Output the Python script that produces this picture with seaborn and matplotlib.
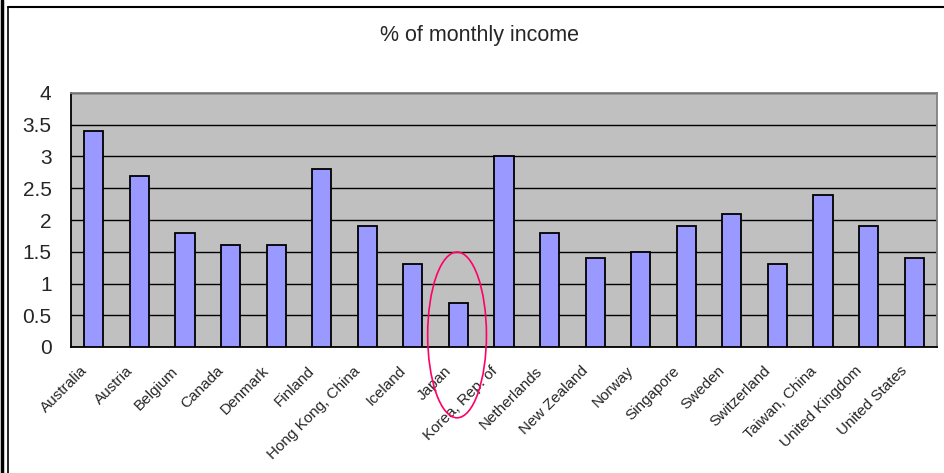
import matplotlib
matplotlib.use("Agg")
import matplotlib.pyplot as plt
from matplotlib.patches import Ellipse
from matplotlib.lines import Line2D
from matplotlib.transforms import ScaledTranslation
import numpy as np
import pandas as pd
import seaborn as sns

# data
countries = ["Australia", "Austria", "Belgium", "Canada", "Denmark", "Finland",
             "Hong Kong, China", "Iceland", "Japan", "Korea, Rep. of",
             "Netherlands", "New Zealand", "Norway", "Singapore", "Sweden",
             "Switzerland", "Taiwan, China", "United Kingdom", "United States"]
pct_income = [3.4, 2.7, 1.8, 1.6, 1.6, 2.8, 1.9, 1.3, 0.7, 3.0,
              1.8, 1.4, 1.5, 1.9, 2.1, 1.3, 2.4, 1.9, 1.4]
highlight = "Japan"

df = pd.DataFrame({"country": countries, "pct": pct_income})

sns.set_style("white")
plt.rcParams["font.family"] = ["Liberation Sans", "DejaVu Sans"]

fig = plt.figure(figsize=(9.44, 4.73), dpi=100)
ax = fig.add_axes([71 / 944, 1 - 347 / 473, 866 / 944, 254 / 473])
ax.set_facecolor("#C0C0C0")

sns.barplot(data=df, x="country", y="pct", color="#9999FF", saturation=1,
            width=0.42, edgecolor="black", linewidth=1.3, ax=ax, zorder=3)

ax.set_xlim(-0.5, len(countries) - 0.5)
ax.set_ylim(0, 4)
ax.set_yticks(np.arange(0, 4.01, 0.5))
ax.set_yticklabels(["0", "0.5", "1", "1.5", "2", "2.5", "3", "3.5", "4"])
ax.yaxis.grid(True, color="black", linewidth=1.0, zorder=1)
ax.set_axisbelow(True)
ax.set_xlabel("")
ax.set_ylabel("")

ax.tick_params(axis="y", labelsize=15, length=4, direction="out",
               color="black", pad=10)
ax.set_xticks(np.arange(len(countries)))
ax.set_xticklabels(countries, rotation=45, ha="right",
                   rotation_mode="anchor", fontsize=11)
ax.tick_params(axis="x", which="major", length=0, pad=12)
shift = ScaledTranslation(-0.14, 0, fig.dpi_scale_trans)
for lab in ax.get_xticklabels():
    lab.set_transform(lab.get_transform() + shift)
ax.set_xticks(np.arange(len(countries) + 1) - 0.5, minor=True)
ax.tick_params(axis="x", which="minor", length=5, direction="in",
               color="#444444")

for side in ["top", "right"]:
    ax.spines[side].set_color("#808080")
    ax.spines[side].set_linewidth(1.3)
for side in ["left", "bottom"]:
    ax.spines[side].set_color("black")
    ax.spines[side].set_linewidth(1.3)

fig.text(479 / 944, 1 - 36 / 473, "% of monthly income", ha="center",
         va="center", fontsize=15.5)

# red ellipse around the highlighted bar
jx = countries.index(highlight)
ax.add_patch(Ellipse((jx - 0.03, 0.19), width=1.29, height=2.61,
                     fill=False, edgecolor="#FF0066", linewidth=1.2,
                     clip_on=False, zorder=5))

# chart frame lines
W, H = 944, 473
fig.add_artist(Line2D([1.5 / W, 1.5 / W], [0, 1], color="black",
                      linewidth=2.5, transform=fig.transFigure))
fig.add_artist(Line2D([7.5 / W, 7.5 / W], [0, 1 - 7.5 / H], color="black",
                      linewidth=1.2, transform=fig.transFigure))
fig.add_artist(Line2D([7.5 / W, 1], [1 - 7.5 / H, 1 - 7.5 / H], color="black",
                      linewidth=1.5, transform=fig.transFigure))

fig.savefig("out.png", dpi=100)
